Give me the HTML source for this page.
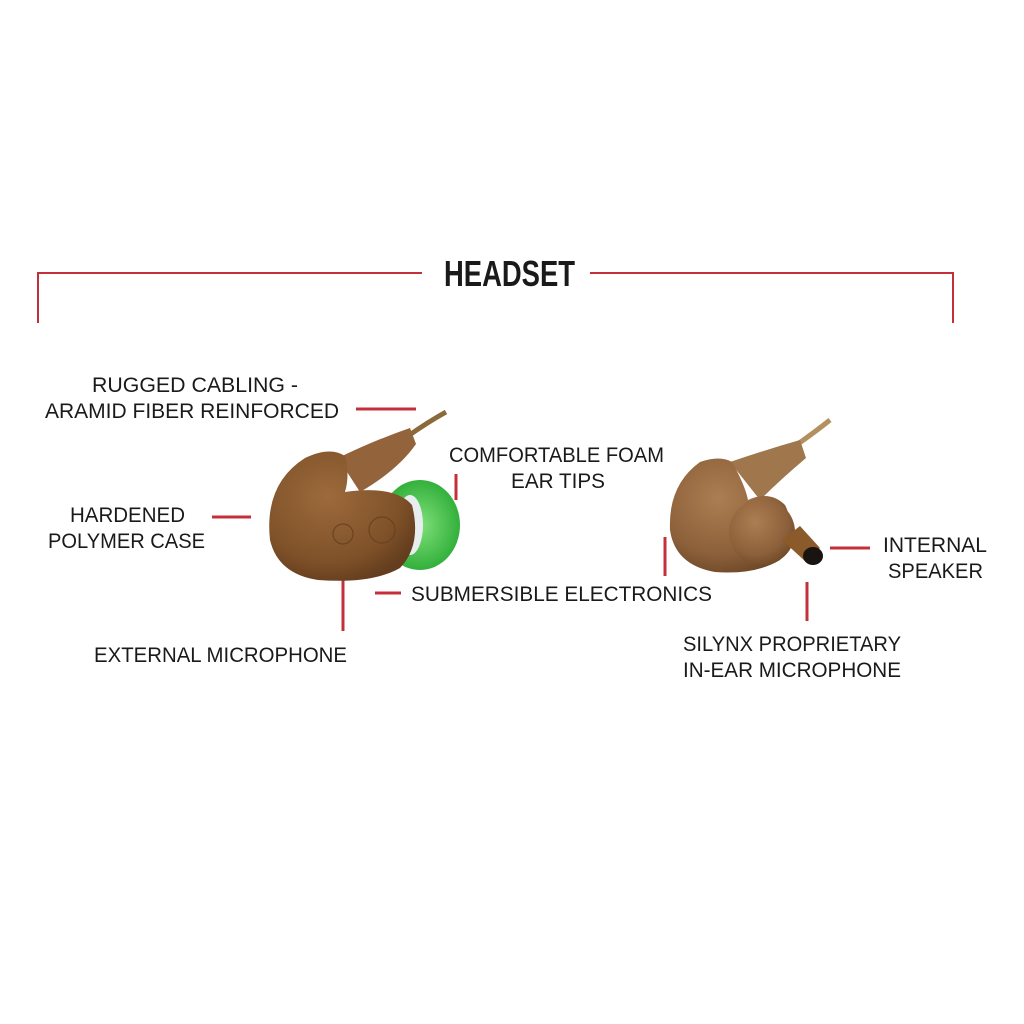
<!DOCTYPE html>
<html><head><meta charset="utf-8"><style>
html,body{margin:0;padding:0;background:#fff;}
svg{display:block}
text{font-family:"Liberation Sans",sans-serif;fill:#1a1a1a;}
</style></head><body>
<svg width="1024" height="1024" viewBox="0 0 1024 1024" xmlns="http://www.w3.org/2000/svg">
<defs>
<radialGradient id="b1" cx="0.4" cy="0.35" r="0.7"><stop offset="0" stop-color="#9c6a3c"/><stop offset="0.7" stop-color="#805229"/><stop offset="1" stop-color="#633d1e"/></radialGradient>
<radialGradient id="b2" cx="0.4" cy="0.35" r="0.7"><stop offset="0" stop-color="#ad7e52"/><stop offset="0.7" stop-color="#8c603a"/><stop offset="1" stop-color="#6e4828"/></radialGradient>
<radialGradient id="g1" cx="0.5" cy="0.5" r="0.5"><stop offset="0" stop-color="#80e07a"/><stop offset="1" stop-color="#33b03c"/></radialGradient>
</defs>
<g stroke="#c4303a" stroke-width="2" fill="none">
<polyline points="38,323 38,273 422,273"/>
<polyline points="590,273 953,273 953,323"/>
</g>
<g stroke="#c4303a" stroke-width="3" fill="none">
<line x1="356" y1="409" x2="416" y2="409"/>
<line x1="212" y1="517" x2="251" y2="517"/>
<line x1="456" y1="474" x2="456" y2="500"/>
<line x1="343" y1="545" x2="343" y2="631"/>
<line x1="375" y1="593" x2="401" y2="593"/>
<line x1="665" y1="537" x2="665" y2="576"/>
<line x1="830" y1="548" x2="870" y2="548"/>
<line x1="807" y1="582" x2="807" y2="621"/>
</g>
<text x="444" y="286" font-weight="bold" font-size="36" textLength="131" lengthAdjust="spacingAndGlyphs">HEADSET</text>
<g font-size="21">
<text x="92" y="392" textLength="206" lengthAdjust="spacingAndGlyphs">RUGGED CABLING -</text>
<text x="45" y="418" textLength="294" lengthAdjust="spacingAndGlyphs">ARAMID FIBER REINFORCED</text>
<text x="70" y="522" textLength="115" lengthAdjust="spacingAndGlyphs">HARDENED</text>
<text x="48" y="548" textLength="157" lengthAdjust="spacingAndGlyphs">POLYMER CASE</text>
<text x="449" y="462" textLength="215" lengthAdjust="spacingAndGlyphs">COMFORTABLE FOAM</text>
<text x="511" y="488" textLength="94" lengthAdjust="spacingAndGlyphs">EAR TIPS</text>
<text x="411" y="601" textLength="301" lengthAdjust="spacingAndGlyphs">SUBMERSIBLE ELECTRONICS</text>
<text x="94" y="662" textLength="253" lengthAdjust="spacingAndGlyphs">EXTERNAL MICROPHONE</text>
<text x="883" y="552" textLength="104" lengthAdjust="spacingAndGlyphs">INTERNAL</text>
<text x="888" y="578" textLength="95" lengthAdjust="spacingAndGlyphs">SPEAKER</text>
<text x="683" y="651" textLength="218" lengthAdjust="spacingAndGlyphs">SILYNX PROPRIETARY</text>
<text x="683" y="677" textLength="218" lengthAdjust="spacingAndGlyphs">IN-EAR MICROPHONE</text>
</g>
<!-- left earbud -->
<path d="M408,436 Q428,422 446,412" stroke="#8a6a3a" stroke-width="5" fill="none"/>
<ellipse cx="420" cy="525" rx="40" ry="45" fill="url(#g1)"/>
<ellipse cx="410" cy="525" rx="13" ry="30" fill="#e8eef0"/>
<path d="M338,458 Q375,440 410,428 L416,444 Q398,470 360,492 Z" fill="#93643b"/>
<path d="M305,458 Q330,446 345,456 Q350,475 345,492 Q395,485 412,505 Q422,545 400,568 Q372,584 318,580 Q278,574 270,540 Q264,484 305,458 Z" fill="url(#b1)"/>
<circle cx="343" cy="534" r="10" fill="none" stroke="#6a4322" stroke-width="1.2"/>
<circle cx="382" cy="530" r="13" fill="none" stroke="#6a4322" stroke-width="1.2"/>
<!-- right earbud -->
<path d="M795,446 Q815,432 830,420" stroke="#b3905f" stroke-width="5" fill="none"/>
<path d="M730,462 Q765,450 800,440 L806,458 Q780,480 760,500 Z" fill="#a0764c"/>
<path d="M700,462 Q720,455 732,462 Q745,485 748,500 Q770,490 785,505 Q800,535 780,560 Q755,575 715,572 Q675,565 670,530 Q668,485 700,462 Z" fill="url(#b2)"/>
<circle cx="762" cy="532" r="33" fill="url(#b2)"/>
<path d="M782,540 L800,526 L820,548 L806,562 Z" fill="#8a5a2a"/>
<ellipse cx="813" cy="556" rx="10" ry="9" fill="#1a1410"/>
</svg>
</body></html>
